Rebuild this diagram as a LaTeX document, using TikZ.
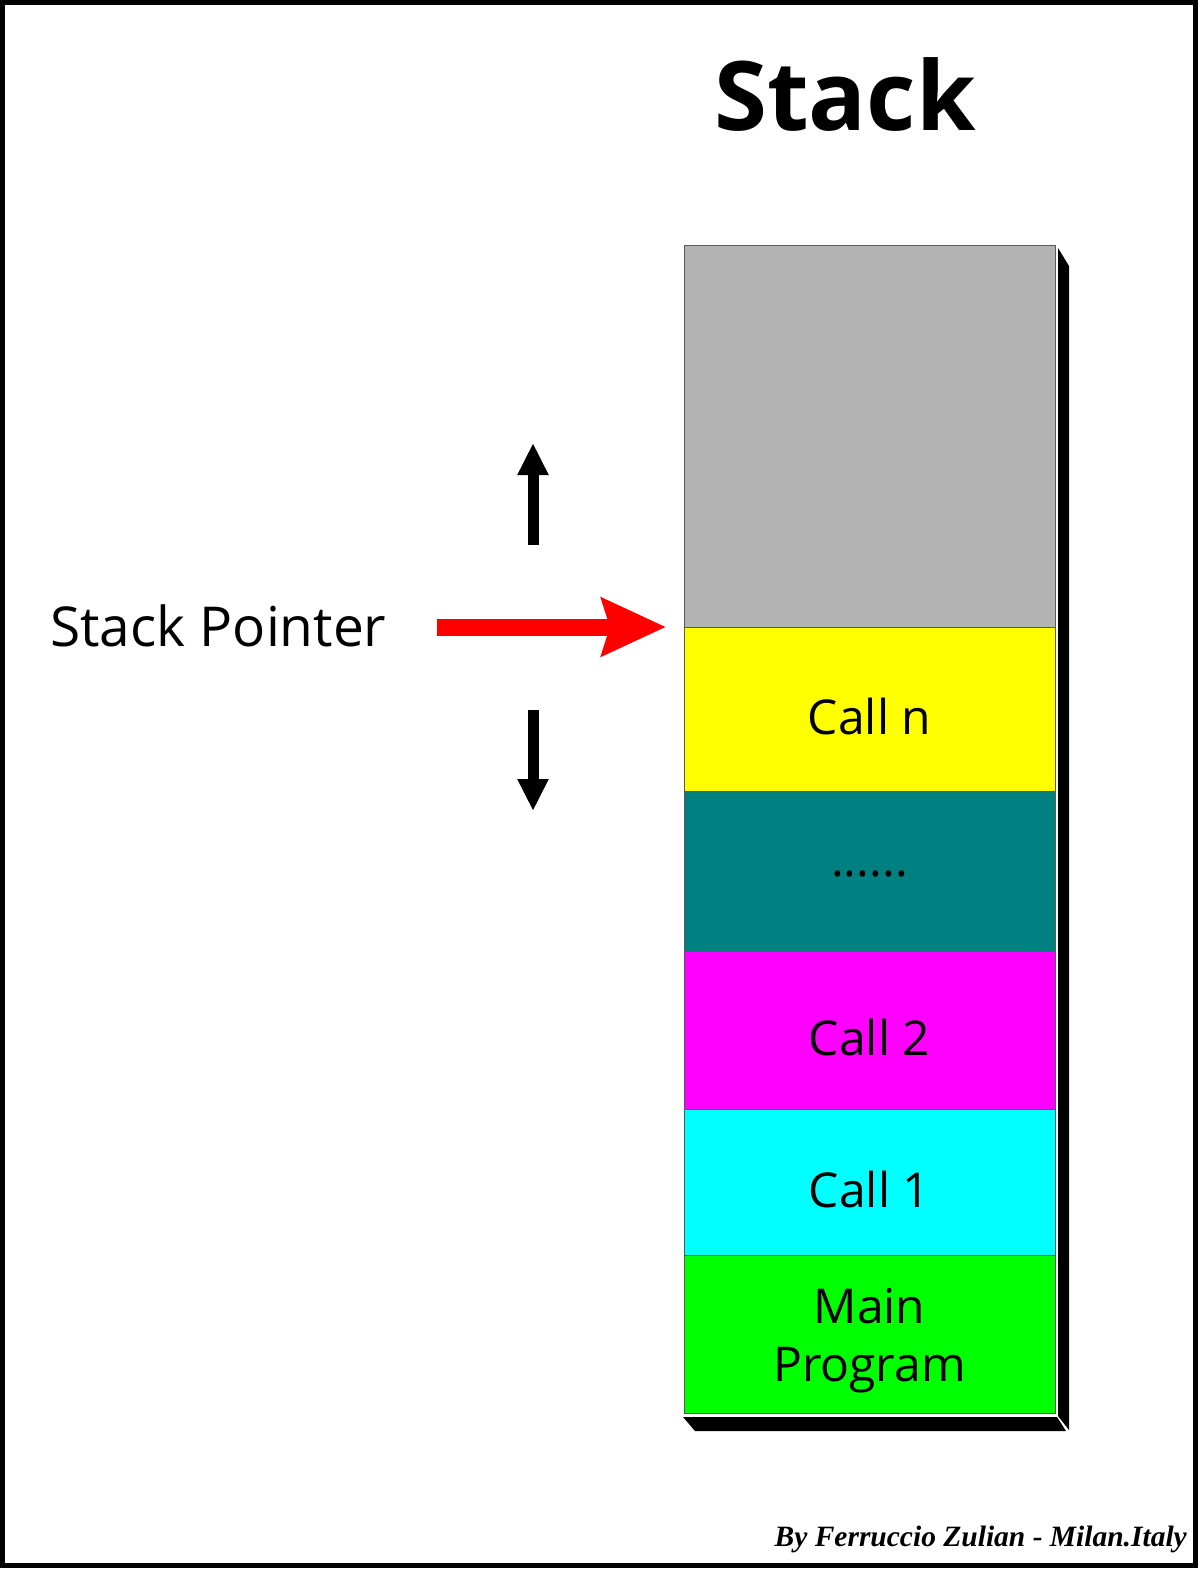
\documentclass[tikz,border=0pt]{standalone}
\usepackage{fontspec}
\setmainfont{Open Sans}
\newfontfamily\creditfont{Liberation Serif}
\usetikzlibrary{arrows.meta,positioning,calc}
\definecolor{freegray}{RGB}{179,179,179}
\definecolor{callyellow}{RGB}{255,255,0}
\definecolor{callteal}{RGB}{0,128,128}
\definecolor{callmagenta}{RGB}{255,0,255}
\definecolor{callcyan}{RGB}{0,255,255}
\definecolor{maingreen}{RGB}{0,255,0}
\definecolor{pointerred}{RGB}{255,0,0}

\begin{document}
\begin{tikzpicture}[
x=1pt, y=-1pt,
node distance=0pt,
cell/.style={draw=black!65, line width=1pt, rectangle, minimum width=371pt, inner sep=0pt, outer sep=0pt, align=center, font=\fontsize{48}{58}\selectfont, text height=50pt, text depth=0pt},
shadow/.style={fill=black, draw=none},
updown/.style={-{Triangle[length=32pt, width=29pt]}, line width=11pt},
pointer/.style={-{Stealth[length=64pt, width=57pt, inset=8pt]}, line width=17pt, pointerred}
]

\useasboundingbox (0,0) rectangle (1200,1570);
\draw[line width=5pt] (2.5,2.5) rectangle (1195,1565);

\node[font=\bfseries\fontsize{96}{110}\selectfont] (title) at (845,95) {Stack};

% the stack, top to bottom
\node[cell, fill=freegray, minimum height=381pt, anchor=north west] (free) at (684,246) {};
\node[cell, fill=callyellow, minimum height=164pt, below=of free] (calln) {Call n};
\node[cell, fill=callteal, minimum height=160pt, text height=10pt, below=of calln] (dots) {......};
\node[cell, fill=callmagenta, minimum height=158pt, below=of dots] (call2) {Call 2};
\node[cell, fill=callcyan, minimum height=146pt, below=of call2] (call1) {Call 1};
\node[cell, fill=maingreen, minimum height=158pt, text height=94pt, below=of call1] (mainprog) {Main\\Program};

% 3d edge
\fill[shadow] ($(free.north east)+(3,2)$) -- ++(11,18) -- ($(mainprog.south east)+(14,17)$) -- ($(mainprog.south east)+(3,3)$) -- cycle;
\fill[shadow] ($(mainprog.south west)+(-1,4)$) -- ($(mainprog.south west)+(11,18)$) -- ($(mainprog.south east)+(11,18)$) -- ($(mainprog.south east)+(2,4)$) -- cycle;

\node[font=\fontsize{55}{66}\selectfont, anchor=base west, inner sep=0pt] (sp) at (50,646) {Stack Pointer};
\draw[pointer] ([xshift=50pt]sp.east |- free.south) -- ([xshift=-18pt]free.south west);

\coordinate (upbase) at (533,545);
\coordinate (downbase) at (533,710);
\draw[updown] (upbase) -- ++(0,-102);
\draw[updown] (downbase) -- ++(0,101);

\node[font=\creditfont\bfseries\itshape\fontsize{29.5}{34}\selectfont, anchor=base east, inner sep=0pt] (credit) at (1187,1546) {By Ferruccio Zulian - Milan.Italy};

\end{tikzpicture}
\end{document}
